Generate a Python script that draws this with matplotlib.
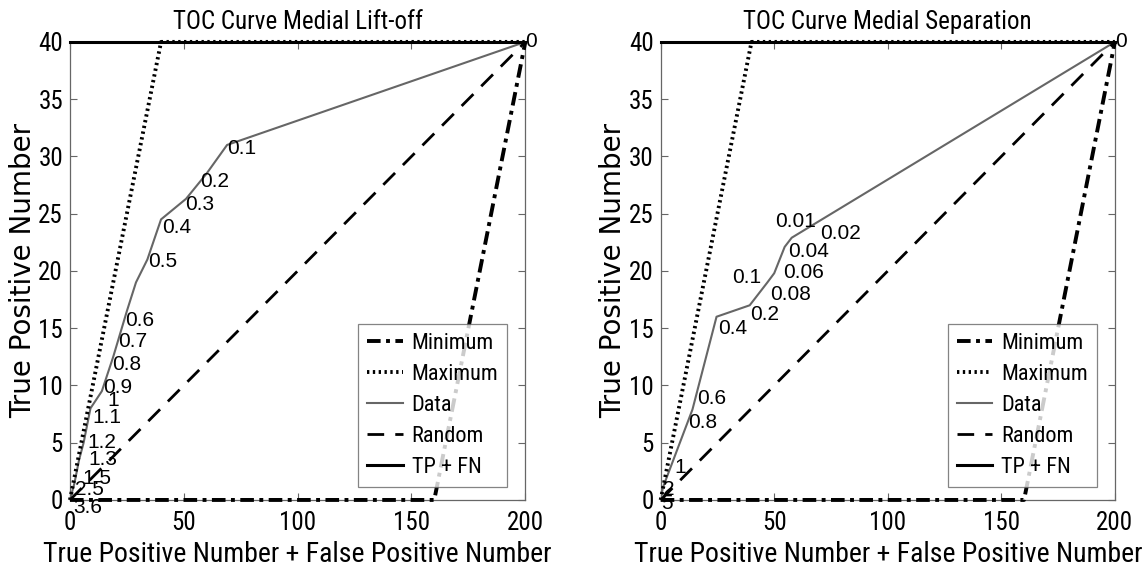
import matplotlib
matplotlib.use("Agg")
import matplotlib.pyplot as plt
from matplotlib import font_manager

# pick a narrow Arial-like face when one is installed
_names = {f.name for f in font_manager.fontManager.ttflist}
_narrow = [n for n in ('Liberation Sans Narrow', 'Arial Narrow', 'Nimbus Sans Narrow',
                       'Roboto Condensed', 'Open Sans Condensed') if n in _names]
plt.rcParams['font.family'] = _narrow[:1] + ['Liberation Sans', 'DejaVu Sans']
ANN_FONT = ['Liberation Sans', 'DejaVu Sans']
YLAB_FONT = ['DejaVu Sans']

# ---------------- data ----------------
total_n = 200
positives = 40

titles = ["TOC Curve Medial Lift-off", "TOC Curve Medial Separation"]

# Left panel: Medial Lift-off
lift_x = [0, 2, 4, 6, 9, 14, 19, 22, 25, 29, 34, 40, 51, 60, 69, 200]
lift_y = [0, 1.5, 3.5, 5, 8, 9.5, 12.5, 14.5, 16.5, 19, 21, 24.5, 26.3, 28.5, 31, 40]
lift_lbl = ["0.1", "0.2", "0.3", "0.4", "0.5", "0.6", "0.7", "0.8", "0.9", "1",
            "1.1", "1.2", "1.3", "1.5", "2.5", "3.6", "0"]
lift_lbl_x = [69.0, 57.1, 50.5, 40.4, 34.3, 24.2, 21.1, 18.5, 14.5, 16.3,
              9.7, 7.5, 8.0, 5.3, 2.2, 1.3, 200]
lift_lbl_y = [30.7, 27.8, 25.8, 23.8, 20.8, 15.7, 13.8, 11.8, 9.8, 8.7,
              7.2, 5.0, 3.5, 1.9, 0.9, -0.7, 40]

# Right panel: Medial Separation
sep_x = [0, 1, 14, 24.6, 39.2, 47, 50, 54.6, 57.7, 200]
sep_y = [0, 1.1, 7.9, 16.0, 17.0, 19.0, 19.8, 22.1, 22.9, 40]
sep_lbl = ["0.01", "0.02", "0.04", "0.06", "0.08", "0.1", "0.2", "0.4",
           "0.6", "0.8", "1", "2", "5", "0"]
sep_lbl_x = [50.2, 70.0, 56.0, 53.9, 48.0, 31.3, 39.2, 25.1, 15.9, 11.9, 6.2, 0.9, 0.4, 200]
sep_lbl_y = [24.3, 23.3, 21.7, 19.9, 17.9, 19.4, 16.2, 15.0, 8.9, 6.8, 2.8, 0.9, -0.3, 40]

# Reference lines (shared)
min_x = [0, total_n - positives, total_n]
min_y = [0, 0, positives]
max_x = [0, positives, total_n]
max_y = [0, positives, positives]
rand_x = [0, total_n]
rand_y = [0, positives]
tpfn_x = [0, total_n]
tpfn_y = [positives, positives]

xticks = [0, 50, 100, 150, 200]
yticks = [0, 5, 10, 15, 20, 25, 30, 35, 40]

# ---------------- figure ----------------
fs_tick = 18
fs_label = 20
fs_ylabel = 20
fs_title = 18
fs_ann = 15
fs_leg = 16

fig = plt.figure(figsize=(11.47, 5.74), dpi=100)
axes = [fig.add_axes([0.061, 0.129, 0.397, 0.798]),
        fig.add_axes([0.576, 0.129, 0.396, 0.798])]

panels = [
    (lift_x, lift_y, lift_lbl, lift_lbl_x, lift_lbl_y),
    (sep_x, sep_y, sep_lbl, sep_lbl_x, sep_lbl_y),
]

spine_col = '#666666'
for ax, title, (dx, dy, lbl, lx, ly) in zip(axes, titles, panels):
    ax.plot(min_x, min_y, color='black', lw=2.8, linestyle=(0, (3.5, 1.4, 1.0, 1.4)),
            label='Minimum', zorder=4, clip_on=False)
    ax.plot(max_x, max_y, color='black', lw=2.8, linestyle=(0, (0.6, 0.9)),
            label='Maximum', zorder=4, clip_on=False)
    ax.plot(dx, dy, color='#666666', lw=1.5, label='Data', zorder=3)
    ax.plot(rand_x, rand_y, color='black', lw=2.0, linestyle=(0, (6, 4)),
            label='Random', zorder=3)
    ax.plot(tpfn_x, tpfn_y, color='black', lw=2.2, label='TP + FN', zorder=3,
            clip_on=False)

    for t, x, y in zip(lbl, lx, ly):
        ax.text(x, y, t, ha='left', va='center', fontsize=fs_ann, family=ANN_FONT,
                clip_on=False, zorder=5)

    ax.set_xlim(0, total_n)
    ax.set_ylim(0, positives)
    ax.set_xticks(xticks)
    ax.set_yticks(yticks)
    ax.tick_params(direction='in', length=5, width=0.8, color=spine_col,
                   top=True, right=True, labelsize=fs_tick)
    ax.tick_params(axis='x', pad=8)
    ax.tick_params(axis='y', pad=5)
    for s in ax.spines.values():
        s.set_color(spine_col)
        s.set_linewidth(0.9)
    ax.set_title(title, fontsize=fs_title, pad=9)
    ax.set_xlabel('True Positive Number + False Positive Number', fontsize=fs_label, labelpad=4)
    ax.set_ylabel('True Positive Number', fontsize=fs_ylabel, family=YLAB_FONT, labelpad=1)

    leg = ax.legend(loc='lower right', fontsize=fs_leg, frameon=True, fancybox=False,
                    edgecolor=spine_col, handlelength=1.6, handletextpad=0.4,
                    labelspacing=0.45, borderpad=0.4, bbox_to_anchor=(0.985, 0.005))
    leg.get_frame().set_linewidth(0.9)

fig.savefig('out.png', dpi=100)
